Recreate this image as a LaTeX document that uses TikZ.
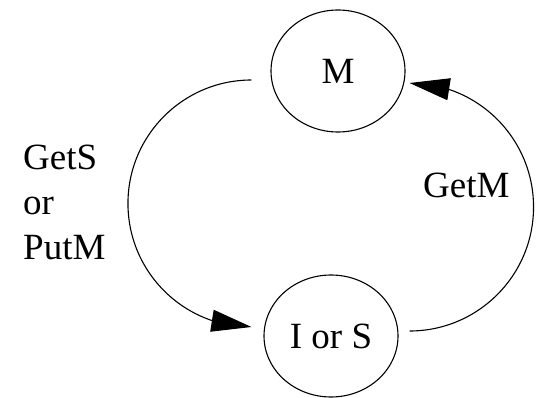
\documentclass[tikz,border=0pt]{standalone}
\usepackage{fontspec}
\setmainfont{Liberation Serif}
\usetikzlibrary{arrows.meta,bending,shapes.geometric}
\begin{document}
\begin{tikzpicture}[x=1pt,y=1pt,
  state/.style={draw, ellipse, line width=1.1pt, minimum width=134pt, minimum height=122pt, inner sep=0pt, font=\fontsize{37}{45}\selectfont},
  lbl/.style={font=\fontsize{37}{45}\selectfont, inner sep=0pt},
  trans/.style={line width=1.1pt, -{Triangle[length=40pt,width=22pt]}}]
\useasboundingbox (0,0) rectangle (544,397);
\node[state] (M) at (338,326) {M};
\node[state] (IS) at (331,61) {I or S};
\coordinate (a1) at ([shift={(-19pt,-9pt)}]M.west);
\coordinate (b1) at ([shift={(11pt,5pt)}]IS.east);
\draw[trans] (a1) arc[start angle=90, end angle=270, radius=123.5pt];
\draw[trans] (b1) arc[start angle=-90, end angle=90, radius=124pt];
\node[lbl, anchor=base west] (getm) at (423,200) {GetM};
\node[lbl, anchor=north west, align=left] (gets) at (23,252) {GetS\\or\\PutM};
\end{tikzpicture}
\end{document}
